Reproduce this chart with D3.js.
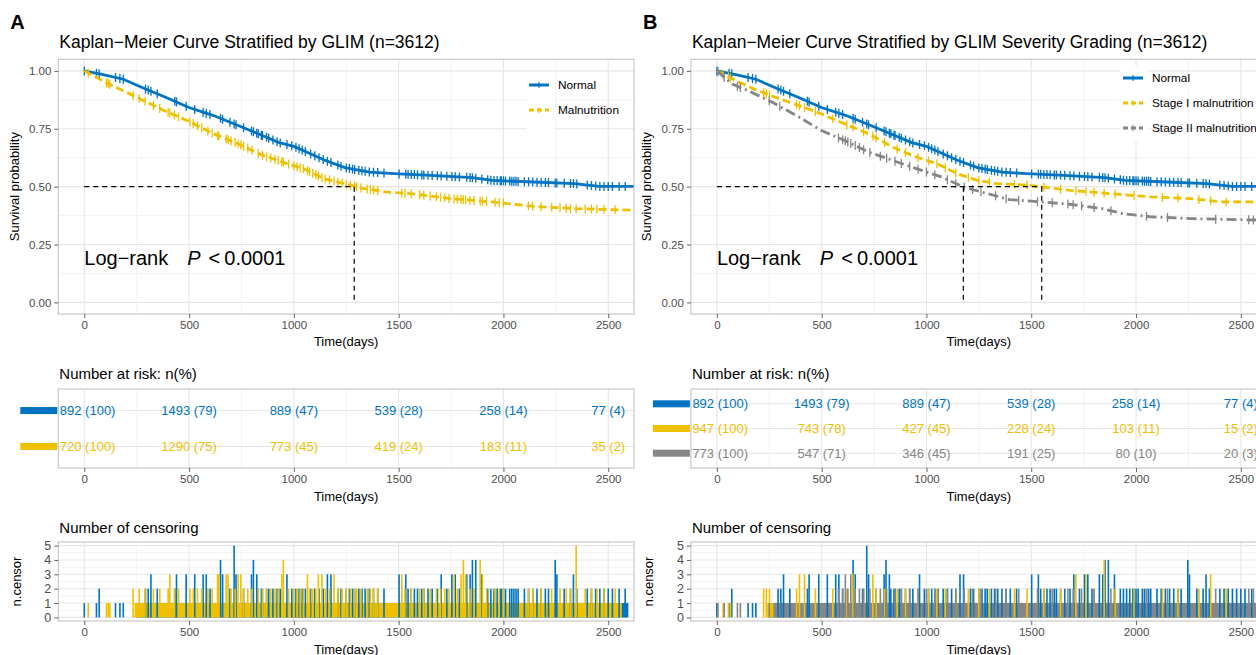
<!DOCTYPE html>
<html>
<head>
<meta charset="utf-8">
<script src="https://cdn.jsdelivr.net/npm/d3@7"></script>
<style>
  body { margin: 0; background: #fff; }
  svg { display: block; }
</style>
</head>
<body>
<script>
// ---- data ----
const riskTimes = [0, 500, 1000, 1500, 2000, 2500];

// survival curves, [day, survival probability]
const normalCurve = [[0, 1], [90, 0.984], [186, 0.964], [284, 0.925], [382, 0.888], [499, 0.842], [617, 0.807],
  [734, 0.764], [812, 0.735], [930, 0.69], [1000, 0.674], [1047, 0.655], [1145, 0.615], [1243, 0.582],
  [1361, 0.563], [1478, 0.556], [1654, 0.549], [1850, 0.539], [1948, 0.527], [2144, 0.52], [2339, 0.513],
  [2457, 0.501], [2623, 0.501]];
const malnutritionCurve = [[0, 1], [88, 0.957], [186, 0.914], [284, 0.871], [382, 0.828], [499, 0.782],
  [617, 0.728], [734, 0.685], [852, 0.635], [969, 0.599], [1047, 0.577], [1145, 0.534], [1243, 0.513],
  [1321, 0.494], [1439, 0.477], [1556, 0.47], [1752, 0.448], [1948, 0.434], [2144, 0.415], [2339, 0.405],
  [2623, 0.398]];
const stage1Curve = [[0, 1], [92, 0.957], [188, 0.917], [303, 0.878], [418, 0.842], [499, 0.814], [610, 0.771],
  [725, 0.728], [840, 0.67], [955, 0.627], [1051, 0.599], [1147, 0.556], [1243, 0.527], [1339, 0.513],
  [1493, 0.506], [1550, 0.499], [1684, 0.484], [1876, 0.47], [2068, 0.456], [2260, 0.448], [2414, 0.434],
  [2623, 0.434]];
const stage2Curve = [[0, 1], [73, 0.943], [150, 0.914], [265, 0.864], [380, 0.807], [499, 0.742], [610, 0.699],
  [725, 0.649], [840, 0.613], [955, 0.577], [1071, 0.542], [1176, 0.499], [1262, 0.477], [1397, 0.444],
  [1550, 0.434], [1684, 0.424], [1838, 0.405], [1934, 0.384], [2068, 0.37], [2260, 0.362], [2623, 0.355]];

const mediansA = [1288];
const mediansB = [1176, 1550];

// number at risk, n and (%)
const normalRiskN = [892, 1493, 889, 539, 258, 77];
const normalRiskPct = [100, 79, 47, 28, 14, 4];
const malnutritionRiskN = [720, 1290, 773, 419, 183, 35];
const malnutritionRiskPct = [100, 75, 45, 24, 11, 2];
const stage1RiskN = [947, 743, 427, 228, 103, 15];
const stage1RiskPct = [100, 78, 45, 24, 11, 2];
const stage2RiskN = [773, 547, 346, 191, 80, 20];
const stage2RiskPct = [100, 71, 45, 25, 10, 3];

// censoring: [day, n.censor] bars, plus runs of days where n.censor is 1 throughout
const normalCensor = [[0, 1], [58, 1], [71, 2], [149, 1], [170, 1], [186, 1], [292, 2], [305, 2], [318, 3],
  [348, 2], [432, 2], [440, 3], [486, 3], [527, 3], [567, 3], [582, 3], [600, 2], [650, 4], [660, 3], [695, 2],
  [715, 5], [724, 3], [760, 2], [798, 3], [807, 4], [823, 3], [830, 2], [845, 2], [850, 2], [870, 2], [880, 2],
  [900, 2], [920, 2], [935, 2], [967, 3], [990, 2], [1010, 2], [1025, 2], [1040, 2], [1055, 2], [1080, 2],
  [1100, 2], [1120, 2], [1140, 2], [1160, 3], [1177, 3], [1210, 2], [1225, 2], [1250, 2], [1265, 2], [1280, 2],
  [1290, 2], [1310, 2], [1325, 2], [1340, 2], [1360, 2], [1380, 2], [1400, 2], [1430, 2], [1502, 3], [1534, 3],
  [1545, 2], [1560, 2], [1575, 2], [1590, 2], [1610, 2], [1620, 2], [1640, 2], [1660, 2], [1685, 2], [1703, 3],
  [1730, 2], [1754, 3], [1770, 3], [1790, 2], [1825, 3], [1841, 3], [1852, 4], [1868, 4], [1897, 3], [1925, 2],
  [1940, 2], [1955, 2], [1970, 2], [1985, 2], [1990, 2], [2000, 2], [2010, 2], [2030, 2], [2040, 2], [2050, 2],
  [2060, 2], [2070, 2], [2100, 2], [2120, 2], [2140, 2], [2160, 2], [2180, 2], [2200, 2], [2215, 2], [2247, 4],
  [2255, 3], [2290, 2], [2320, 2], [2334, 3], [2350, 2], [2400, 2], [2420, 2], [2440, 2], [2460, 2], [2480, 2],
  [2500, 2], [2520, 2], [2552, 2], [2581, 2]];
const normalCensorRuns = [[250, 2596]];
const malnutritionCensor = [[19, 1], [106, 1], [114, 1], [122, 1], [233, 2], [262, 2], [290, 2], [330, 2],
  [360, 2], [400, 2], [408, 3], [430, 2], [450, 2], [504, 2], [520, 2], [540, 2], [560, 2], [590, 2], [610, 2],
  [636, 3], [642, 3], [677, 3], [686, 3], [700, 2], [720, 2], [734, 3], [747, 3], [760, 2], [780, 2], [800, 2],
  [830, 2], [850, 2], [870, 2], [890, 2], [910, 2], [925, 2], [943, 3], [950, 4], [975, 2], [1000, 2], [1015, 2],
  [1030, 2], [1045, 2], [1065, 3], [1075, 2], [1090, 2], [1105, 2], [1117, 3], [1134, 3], [1150, 2], [1170, 2],
  [1192, 3], [1210, 2], [1230, 2], [1250, 2], [1270, 2], [1290, 2], [1300, 2], [1320, 2], [1350, 2], [1365, 2],
  [1380, 2], [1400, 2], [1515, 3], [1530, 2], [1560, 2], [1600, 2], [1620, 2], [1650, 2], [1680, 2], [1700, 2],
  [1720, 2], [1740, 2], [1765, 3], [1780, 2], [1798, 3], [1809, 4], [1820, 3], [1840, 2], [1860, 2], [1889, 4],
  [1900, 3], [1920, 2], [1960, 2], [1980, 2], [2000, 2], [2119, 2], [2140, 2], [2180, 2], [2230, 2], [2270, 2],
  [2300, 2], [2320, 2], [2347, 5], [2390, 2], [2420, 2], [2446, 2], [2480, 2], [2533, 2]];
const malnutritionCensorRuns = [[240, 2565]];
const stage1Censor = [[30, 1], [55, 1], [65, 1], [223, 2], [236, 2], [251, 2], [380, 2], [394, 3], [418, 3],
  [470, 2], [553, 2], [620, 2], [649, 3], [700, 2], [744, 3], [760, 2], [800, 2], [860, 2], [900, 2], [960, 2],
  [1010, 2], [1050, 2], [1090, 2], [1140, 2], [1200, 2], [1250, 2], [1300, 2], [1420, 2], [1480, 2], [1560, 2],
  [1640, 2], [1713, 3], [1761, 3], [1800, 2], [1848, 4], [1900, 2], [1990, 2], [2126, 2], [2200, 2], [2300, 2],
  [2356, 3], [2430, 2]];
const stage1CensorRuns = [[240, 2500]];
const stage2Censor = [[5, 1], [35, 1], [98, 1], [112, 1], [250, 1], [300, 1], [580, 2], [600, 2], [613, 3],
  [625, 2], [639, 3], [660, 2], [680, 2], [700, 2], [730, 2], [780, 2], [810, 2], [850, 2], [880, 2], [920, 2],
  [960, 2], [1000, 2], [1040, 2], [1100, 2], [1140, 2], [1180, 2], [1220, 2], [1260, 2], [1330, 2], [1380, 2],
  [1440, 2], [1530, 2], [1600, 2], [1675, 2], [1700, 2], [1740, 2], [1800, 2], [1880, 2], [2050, 2], [2150, 2],
  [2380, 2], [2538, 2], [2560, 2]];
const stage2CensorRuns = [[270, 2623]];

const BLUE = '#0073C2', YELLOW = '#EFC000', GRAY = '#868686';

const normalGroup = { name: 'Normal', color: BLUE, dash: null, curve: normalCurve, censor: normalCensor,
  runs: normalCensorRuns, riskN: normalRiskN, riskPct: normalRiskPct };
const malnutritionGroup = { name: 'Malnutrition', color: YELLOW, dash: '8,4', curve: malnutritionCurve,
  censor: malnutritionCensor, runs: malnutritionCensorRuns, riskN: malnutritionRiskN, riskPct: malnutritionRiskPct };
const stage1Group = { name: 'Stage I malnutrition', color: YELLOW, dash: '8,4', curve: stage1Curve,
  censor: stage1Censor, runs: stage1CensorRuns, riskN: stage1RiskN, riskPct: stage1RiskPct };
const stage2Group = { name: 'Stage II malnutrition', color: GRAY, dash: '10,4,2,4', curve: stage2Curve,
  censor: stage2Censor, runs: stage2CensorRuns, riskN: stage2RiskN, riskPct: stage2RiskPct };

// ---- drawing ----
const FONT = '"Liberation Sans", Arial, Helvetica, sans-serif';
const xDomain = [-124, 2623];
const survTicks = [0, 0.25, 0.5, 0.75, 1];
const censorTicks = [0, 1, 2, 3, 4, 5];
const TICK_GRAY = '#4d4d4d';

const svg = d3.select('body').append('svg')
  .attr('width', 1256).attr('height', 655)
  .style('font-family', FONT);
const defs = svg.append('defs');
let clipCount = 0;

function midpoints(ticks) {
  return d3.pairs(ticks).map(([a, b]) => (a + b) / 2);
}

// box = {l, r, t, b}; yMajor/yMinor are already pixel positions
function frame(g, x, box, yMajor, yMinor) {
  const { l, r, t, b } = box;
  const xMajor = x.ticks(6);
  g.append('rect').attr('x', l).attr('y', t).attr('width', r - l).attr('height', b - t).attr('fill', '#fff');
  const grid = g.append('g').attr('fill', 'none');
  grid.selectAll('.vmin').data(midpoints(xMajor)).join('line')
    .attr('x1', d => x(d)).attr('x2', d => x(d)).attr('y1', t).attr('y2', b)
    .attr('stroke', '#f2f2f2').attr('stroke-width', 0.9);
  grid.selectAll('.hmin').data(yMinor).join('line')
    .attr('x1', l).attr('x2', r).attr('y1', d => d).attr('y2', d => d)
    .attr('stroke', '#f2f2f2').attr('stroke-width', 0.9);
  grid.selectAll('.vmaj').data(xMajor).join('line')
    .attr('x1', d => x(d)).attr('x2', d => x(d)).attr('y1', t).attr('y2', b)
    .attr('stroke', '#e6e6e6').attr('stroke-width', 1.1);
  grid.selectAll('.hmaj').data(yMajor).join('line')
    .attr('x1', l).attr('x2', r).attr('y1', d => d).attr('y2', d => d)
    .attr('stroke', '#e6e6e6').attr('stroke-width', 1.1);
}

function border(g, box) {
  g.append('rect').attr('x', box.l).attr('y', box.t).attr('width', box.r - box.l).attr('height', box.b - box.t)
    .attr('fill', 'none').attr('stroke', '#c4c4c4').attr('stroke-width', 1.1);
}

function clipFor(box) {
  const id = 'clip' + (clipCount++);
  defs.append('clipPath').attr('id', id).append('rect')
    .attr('x', box.l).attr('y', box.t).attr('width', box.r - box.l).attr('height', box.b - box.t);
  return `url(#${id})`;
}

function styleAxis(a, size) {
  a.select('.domain').remove();
  a.selectAll('.tick line').attr('stroke', '#555').attr('stroke-width', 0.9);
  a.selectAll('.tick text').attr('fill', TICK_GRAY).style('font-size', size + 'px').style('font-family', FONT);
}

function bottomAxis(g, x, box, titleY) {
  const a = g.append('g').attr('transform', `translate(0,${box.b})`)
    .call(d3.axisBottom(x).ticks(6).tickFormat(d3.format('d')).tickSize(4).tickPadding(3));
  styleAxis(a, 11.5);
  g.append('text').attr('x', (box.l + box.r) / 2).attr('y', titleY)
    .attr('text-anchor', 'middle').attr('dominant-baseline', 'central')
    .style('font-size', '13px').text('Time(days)');
}

function drawMain(cfg) {
  const x = d3.scaleLinear().domain(xDomain).range([cfg.left, cfg.right]);
  const y = d3.scaleLinear().domain([-0.05, 1.05]).range([314, 59.3]);
  const g = svg.append('g');
  const box = { l: cfg.left, r: cfg.right, t: 59.3, b: 314 };

  g.append('text').attr('x', cfg.left - 48).attr('y', 29)
    .style('font-size', '20px').style('font-weight', 'bold').text(cfg.label);
  g.append('text').attr('x', cfg.left + 1).attr('y', 48)
    .style('font-size', '17.5px').text(cfg.title);

  frame(g, x, box, survTicks.map(y), midpoints(survTicks).map(y));

  const plot = g.append('g').attr('clip-path', clipFor(box));

  // legend key backgrounds
  plot.append('rect').attr('x', cfg.legendX - 3).attr('y', cfg.legendY - 12)
    .attr('width', 28).attr('height', 25 * 3).attr('fill', '#fff');

  const line = d3.line().x(d => x(d[0])).y(d => y(d[1]));
  cfg.groups.forEach(grp => {
    plot.append('path').datum(grp.curve)
      .attr('d', line).attr('fill', 'none')
      .attr('stroke', grp.color).attr('stroke-width', 2.8)
      .attr('stroke-dasharray', grp.dash);
    const surv = d3.scaleLinear().domain(grp.curve.map(d => d[0])).range(grp.curve.map(d => d[1]));
    plot.selectAll(null).data(grp.censor).join('line')
      .attr('x1', d => x(d[0])).attr('x2', d => x(d[0]))
      .attr('y1', d => y(surv(d[0])) - 4.5).attr('y2', d => y(surv(d[0])) + 4.5)
      .attr('stroke', grp.color).attr('stroke-width', 1.3);
  });

  // median survival lines
  const med = plot.append('g').attr('stroke', '#000').attr('stroke-width', 1.2).attr('stroke-dasharray', '5,4');
  med.append('line').attr('x1', x(0)).attr('x2', x(d3.max(cfg.medians)))
    .attr('y1', y(0.5)).attr('y2', y(0.5));
  med.selectAll(null).data(cfg.medians).join('line')
    .attr('x1', d => x(d)).attr('x2', d => x(d)).attr('y1', y(0.5)).attr('y2', y(0));

  // log-rank annotation
  const lr = plot.append('text').attr('x', x(0)).attr('y', 265).style('font-size', '20px');
  lr.append('tspan').text('Log\u2212rank');
  lr.append('tspan').attr('dx', 19).style('font-style', 'italic').text('P');
  lr.append('tspan').attr('dx', 8).style('font-weight', 300).text('<');
  lr.append('tspan').attr('dx', 4).text('0.0001');

  // legend
  const leg = plot.append('g');
  cfg.groups.forEach((grp, i) => {
    const ly = cfg.legendY + i * 25;
    leg.append('line').attr('x1', cfg.legendX).attr('x2', cfg.legendX + 20).attr('y1', ly).attr('y2', ly)
      .attr('stroke', grp.color).attr('stroke-width', 2.8).attr('stroke-dasharray', grp.dash ? '5,3' : null);
    leg.append('line').attr('x1', cfg.legendX + 10).attr('x2', cfg.legendX + 10).attr('y1', ly - 3).attr('y2', ly + 3)
      .attr('stroke', grp.color).attr('stroke-width', 1.1);
    leg.append('text').attr('x', cfg.legendX + 29).attr('y', ly).attr('dominant-baseline', 'central')
      .style('font-size', '11.8px').text(grp.name);
  });

  border(g, box);

  const ya = g.append('g').attr('transform', `translate(${box.l},0)`)
    .call(d3.axisLeft(y).tickValues(survTicks).tickFormat(d3.format('.2f')).tickSize(4).tickPadding(3));
  styleAxis(ya, 11.5);
  g.append('text').attr('transform', `translate(${box.l - 44},${(box.t + box.b) / 2}) rotate(-90)`)
    .attr('text-anchor', 'middle').attr('dominant-baseline', 'central')
    .style('font-size', '13px').text('Survival probability');

  bottomAxis(g, x, box, 341);
}

function drawRisk(cfg) {
  const x = d3.scaleLinear().domain(xDomain).range([cfg.left, cfg.right]);
  const box = { l: cfg.left, r: cfg.right, t: 389, b: 468 };
  const y = d3.scalePoint().domain(cfg.groups.map(d => d.name)).range([box.t, box.b]).padding(0.6);
  const g = svg.append('g');

  g.append('text').attr('x', cfg.left + 1).attr('y', 373).attr('dominant-baseline', 'central')
    .style('font-size', '15px').text('Number at risk: n(%)');

  frame(g, x, box, cfg.groups.map(d => y(d.name)), []);
  border(g, box);

  cfg.groups.forEach(grp => {
    const row = g.append('g');
    row.selectAll(null).data(riskTimes).join('text')
      .attr('x', d => x(d)).attr('y', y(grp.name))
      .attr('text-anchor', 'middle').attr('dominant-baseline', 'central')
      .attr('fill', grp.color).style('font-size', '13px')
      .text((d, i) => `${grp.riskN[i]} (${grp.riskPct[i]})`)
      .each(function (d) {
        // keep first column inside the table, as the original does
        const w = this.getComputedTextLength();
        if (x(d) - w / 2 < box.l + 1.5) d3.select(this).attr('x', box.l + 1.5 + w / 2);
      });
    g.append('rect').attr('x', box.l - 38).attr('y', y(grp.name) - 3.5)
      .attr('width', 37).attr('height', 7).attr('fill', grp.color);
  });

  bottomAxis(g, x, box, 496);
}

function drawCensor(cfg) {
  const x = d3.scaleLinear().domain(xDomain).range([cfg.left, cfg.right]);
  const y = d3.scaleLinear().domain([-0.25, 5.25]).range([621, 542]);
  const box = { l: cfg.left, r: cfg.right, t: 542, b: 621 };
  const g = svg.append('g');

  g.append('text').attr('x', cfg.left + 1).attr('y', 527).attr('dominant-baseline', 'central')
    .style('font-size', '15px').text('Number of censoring');

  frame(g, x, box, censorTicks.map(y), midpoints(censorTicks).map(y));
  const plot = g.append('g').attr('clip-path', clipFor(box));

  cfg.groups.forEach(grp => {
    plot.selectAll(null).data(grp.runs).join('rect')
      .attr('x', d => x(d[0])).attr('width', d => x(d[1]) - x(d[0]))
      .attr('y', y(1)).attr('height', y(0) - y(1)).attr('fill', grp.color);
  });
  cfg.groups.forEach(grp => {
    plot.selectAll(null).data(grp.censor).join('rect')
      .attr('x', d => x(d[0]) - 0.8).attr('width', 1.6)
      .attr('y', d => y(d[1])).attr('height', d => y(0) - y(d[1]))
      .attr('fill', grp.color);
  });

  border(g, box);

  const ya = g.append('g').attr('transform', `translate(${box.l},0)`)
    .call(d3.axisLeft(y).tickValues(censorTicks).tickFormat(d3.format('d')).tickSize(4).tickPadding(3));
  styleAxis(ya, 12.5);
  g.append('text').attr('transform', `translate(${box.l - 42},${(box.t + box.b) / 2}) rotate(-90)`)
    .attr('text-anchor', 'middle').attr('dominant-baseline', 'central')
    .style('font-size', '13px').text('n.censor');

  bottomAxis(g, x, box, 649);
}

const panelA = {
  label: 'A', title: 'Kaplan\u2212Meier Curve Stratified by GLIM (n=3612)',
  left: 58.3, right: 634, groups: [normalGroup, malnutritionGroup], medians: mediansA,
  legendX: 529, legendY: 85
};
const panelB = {
  label: 'B', title: 'Kaplan\u2212Meier Curve Stratified by GLIM Severity Grading (n=3612)',
  left: 690.9, right: 1266.6, groups: [normalGroup, stage1Group, stage2Group], medians: mediansB,
  legendX: 1123, legendY: 78
};

[panelA, panelB].forEach(p => {
  drawMain(p);
  drawRisk(p);
  drawCensor(p);
});
</script>
</body>
</html>
